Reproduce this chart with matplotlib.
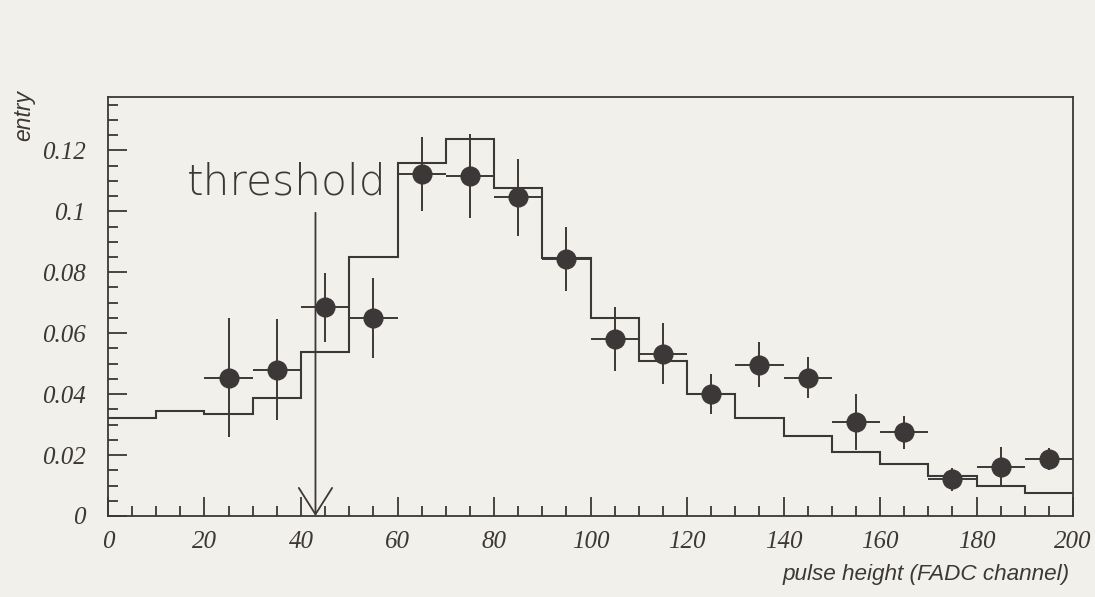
import numpy as np
import matplotlib
matplotlib.use("Agg")
import matplotlib.pyplot as plt
from matplotlib.ticker import FixedLocator, MultipleLocator

# Measured spectrum (points with errors) and simulated histogram
bin_edges = np.arange(0, 210, 10)
data_x = [25, 35, 45, 55, 65, 75, 85, 95, 105, 115, 125, 135, 145, 155, 165, 175, 185, 195]
data_y = [0.0454, 0.0480, 0.0685, 0.0650, 0.1122, 0.1116, 0.1046, 0.0844, 0.0581, 0.0533,
          0.0400, 0.0496, 0.0454, 0.0308, 0.0274, 0.0121, 0.0162, 0.0186]
data_err = [0.0196, 0.0165, 0.0113, 0.0130, 0.0121, 0.0137, 0.0127, 0.0106, 0.0105, 0.0101,
            0.0065, 0.0074, 0.0067, 0.0092, 0.0054, 0.0038, 0.0066, 0.0036]
bin_half_width = 5
sim_values = [0.0322, 0.0343, 0.0335, 0.0388, 0.0538, 0.0849, 0.1159, 0.1236, 0.1078, 0.0848,
              0.0650, 0.0510, 0.0400, 0.0320, 0.0261, 0.0210, 0.0172, 0.0130, 0.0099, 0.0074]

threshold_x = 43
threshold_top = 0.0995

y_ticks = [0, 0.02, 0.04, 0.06, 0.08, 0.1, 0.12]
y_tick_labels = ["0", "0.02", "0.04", "0.06", "0.08", "0.1", "0.12"]
x_ticks = [0, 20, 40, 60, 80, 100, 120, 140, 160, 180, 200]
x_tick_labels = ["0", "20", "40", "60", "80", "100", "120", "140", "160", "180", "200"]

paper = "#f1f0eb"
ink = "#3d3838"

fig = plt.figure(figsize=(10.95, 5.97), dpi=100, facecolor=paper)
ax = fig.add_axes([0.0986, 0.1357, 0.8814, 0.7018], facecolor=paper)

ax.stairs(sim_values, bin_edges, color=ink, linewidth=1.5, baseline=None)
ax.errorbar(data_x, data_y, xerr=bin_half_width, yerr=data_err, fmt="o",
            color=ink, markersize=13.5, elinewidth=1.4, capsize=0, zorder=3)

ax.annotate("", xy=(threshold_x, 0), xytext=(threshold_x, threshold_top),
            arrowprops=dict(arrowstyle="->,head_length=1.9,head_width=1.2",
                            color=ink, linewidth=1.3, shrinkA=0, shrinkB=0))
ax.text(16.4, 0.1055, "threshold", fontsize=30.5, family="DejaVu Sans",
        fontweight="ultralight", color=ink, ha="left", va="baseline")

ax.set_xlim(0, 200)
ax.set_ylim(0, 0.1375)

ax.xaxis.set_major_locator(FixedLocator(x_ticks))
ax.set_xticklabels(x_tick_labels)
ax.xaxis.set_minor_locator(MultipleLocator(5))
ax.yaxis.set_major_locator(FixedLocator(y_ticks))
ax.set_yticklabels(y_tick_labels)
ax.yaxis.set_minor_locator(MultipleLocator(0.005))

ax.tick_params(which="both", direction="in", colors=ink, width=1.3,
               top=False, right=False)
ax.tick_params(which="major", length=14)
ax.tick_params(which="minor", length=7)
ax.tick_params(axis="y", which="major", pad=16)
ax.tick_params(axis="x", which="major", pad=11)
for lab in ax.get_xticklabels() + ax.get_yticklabels():
    lab.set_fontfamily("Liberation Serif")
    lab.set_fontstyle("italic")
    lab.set_fontsize(18)
    lab.set_color(ink)

for sp in ax.spines.values():
    sp.set_color(ink)
    sp.set_linewidth(1.3)

fig.text(0.022, 0.806, "entry", rotation=90, fontsize=16.5, family="Liberation Sans",
         style="italic", color=ink, ha="center", va="center")
fig.text(0.977, 0.038, "pulse height (FADC channel)", fontsize=16.2,
         family="Liberation Sans", style="italic", color=ink, ha="right", va="center")

fig.savefig("out.png", dpi=100, facecolor=paper)
